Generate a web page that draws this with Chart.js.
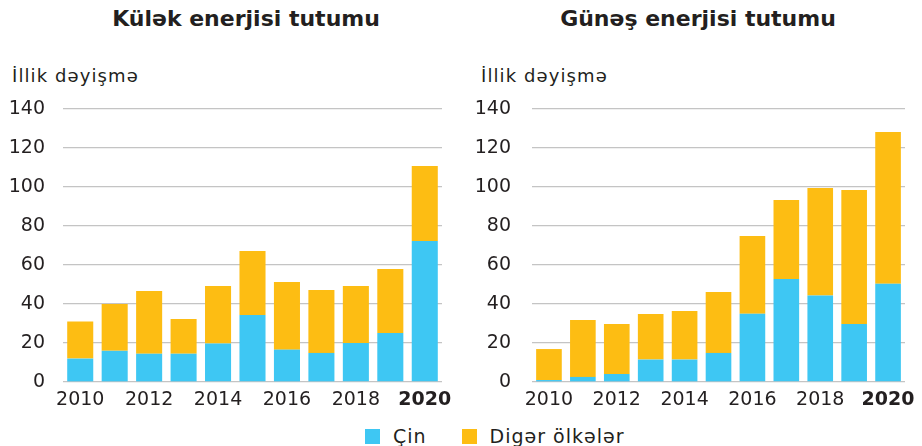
<!DOCTYPE html>
<html>
<head>
<meta charset="utf-8">
<script src="https://cdn.jsdelivr.net/npm/chart.js@4.4.1/dist/chart.umd.min.js"></script>
<style>
  body { margin: 0; background: #fff; font-family: 'DejaVu Sans', sans-serif; color: #231f20; }
  #page { position: relative; width: 922px; height: 446px; overflow: hidden; }
  .title { position: absolute; top: 4px; font-size: 22px; font-weight: 700; line-height: 30px; transform: translateX(-50%); white-space: nowrap; }
  .unit { position: absolute; top: 65px; font-size: 18px; letter-spacing: 1.1px; white-space: nowrap; }
  .box { position: absolute; top: 90px; width: 461px; height: 326px; }
  #legend { position: absolute; left: 365px; top: 425px; font-size: 19px; letter-spacing: 1px; display: flex; align-items: center; }
  #legend span.sw { display: inline-block; width: 15px; height: 15px; margin-right: 13px; }
  #legend span.lbl { margin-right: 35px; }
</style>
</head>
<body>
<div id="page">
  <div class="title" style="left:246px">Külək enerjisi tutumu</div>
  <div class="title" style="left:698px">Günəş enerjisi tutumu</div>
  <div class="unit" style="left:12px">İllik dəyişmə</div>
  <div class="unit" style="left:481px">İllik dəyişmə</div>
  <div class="box" style="left:0"><canvas id="windChart"></canvas></div>
  <div class="box" style="left:461px"><canvas id="solarChart"></canvas></div>
  <div id="legend">
    <span class="sw" style="background:#3ec7f3"></span><span class="lbl">Çin</span>
    <span class="sw" style="background:#fdbd13"></span><span>Digər ölkələr</span>
  </div>
</div>
<script>
const years = ['2010', '2011', '2012', '2013', '2014', '2015', '2016', '2017', '2018', '2019', '2020'];
const yTicks = [0, 20, 40, 60, 80, 100, 120, 140];

// wind: China and everyone else, GW added per year
const windChina = [12, 16, 14.5, 14.5, 19.7, 34.4, 16.6, 14.9, 20, 25.1, 72.3];
const windOther = [19, 24, 32.2, 17.8, 29.5, 32.8, 34.7, 32.3, 29.2, 32.8, 38.5];

// solar
const solarChina = [1, 2.6, 4.1, 11.5, 11.5, 14.9, 35, 52.8, 44.3, 29.7, 50.4];
const solarOther = [15.9, 29.2, 25.6, 23.4, 24.9, 31.3, 39.9, 40.5, 55.2, 68.8, 77.8];

const CHINA_COLOR = '#3ec7f3';
const OTHER_COLOR = '#fdbd13';

Chart.defaults.font.family = "'DejaVu Sans', sans-serif";
Chart.defaults.color = '#231f20';

function makeChart(id, china, other, axisWidth, labelGap, rightPad) {
  const ctx = document.getElementById(id).getContext('2d');
  return new Chart(ctx, {
    type: 'bar',
    data: {
      labels: years,
      datasets: [
        { label: 'Çin', data: china, backgroundColor: CHINA_COLOR, borderWidth: 0 },
        { label: 'Digər ölkələr', data: other, backgroundColor: OTHER_COLOR, borderWidth: 0 }
      ]
    },
    options: {
      responsive: true,
      maintainAspectRatio: false,
      animation: false,
      layout: { padding: { top: 19, right: rightPad, left: 0, bottom: 0 } },
      datasets: { bar: { categoryPercentage: 1, barPercentage: 0.756 } },
      scales: {
        x: {
          stacked: true,
          grid: { display: false, drawTicks: false },
          border: { display: false },
          ticks: {
            autoSkip: false,
            maxRotation: 0,
            padding: 7,
            font: function(c) {
              return { size: 19, weight: c.index === years.length - 1 ? 'bold' : 'normal' };
            },
            callback: function(value, index) {
              return index % 2 === 0 ? years[index] : '';
            }
          },
          afterFit: function(scale) { scale.height = 34; }
        },
        y: {
          stacked: true,
          min: 0,
          max: 140,
          afterBuildTicks: function(scale) {
            scale.ticks = yTicks.map(v => ({ value: v }));
          },
          grid: { color: '#c4c4c4', lineWidth: 1.3, drawTicks: false },
          border: { display: false },
          ticks: { padding: labelGap, font: { size: 19 } },
          // tick padding is only meant as a horizontal gap here
          afterFit: function(scale) {
            scale.width = axisWidth;
            scale.paddingTop = 0;
            scale.paddingBottom = 0;
          }
        }
      },
      plugins: {
        legend: { display: false },
        tooltip: { enabled: false }
      }
    }
  });
}

makeChart('windChart', windChina, windOther, 63, 18, 19);
makeChart('solarChart', solarChina, solarOther, 71, 21, 11);
</script>
</body>
</html>
